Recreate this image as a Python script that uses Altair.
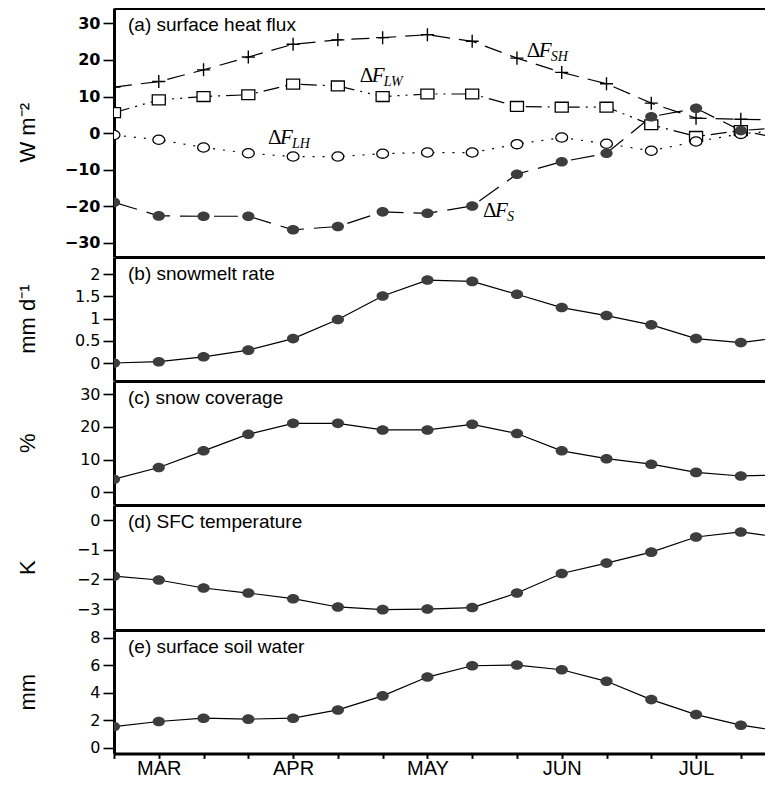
import json
import altair as alt
import pandas as pd

# ---------------- data ----------------
# x position: pentad index 0..14, last entry = value read where the frame is cut on the right
idx = list(range(15)) + [14.54]
months = ["", "MAR", "", "", "APR", "", "", "MAY", "", "", "JUN", "", "", "JUL", ""]

# (a) surface heat flux (W m-2)
d_sh = [12.6, 14.1, 17.3, 20.8, 24.3, 25.5, 26.1, 26.9, 25.1, 20.5, 16.6, 13.5, 8.2, 4.1, 3.8, 3.7]
d_lw = [5.6, 9.1, 10.0, 10.5, 13.4, 12.9, 10.0, 10.7, 10.7, 7.3, 7.1, 7.1, 2.3, -0.9, 0.7, 1.2]
d_lh = [-0.5, -1.8, -3.9, -5.5, -6.4, -6.4, -5.6, -5.3, -5.3, -3.0, -1.2, -2.9, -4.8, -2.3, -0.2, 0.4]
d_s = [-18.9, -22.6, -22.7, -22.7, -26.4, -25.5, -21.5, -21.9, -19.9, -11.2, -7.8, -5.5, 4.5, 6.8, 0.7, -0.6]
# (b) snowmelt rate (mm/d)
melt = [0.0, 0.03, 0.14, 0.29, 0.55, 0.98, 1.51, 1.87, 1.84, 1.55, 1.25, 1.07, 0.86, 0.55, 0.46, 0.53]
# (c) snow coverage (%)
cover = [4.0, 7.6, 12.7, 17.8, 21.1, 21.1, 19.1, 19.1, 20.8, 18.0, 12.7, 10.3, 8.6, 6.1, 5.0, 5.2]
# (d) SFC temperature (K)
temp = [-1.89, -2.02, -2.29, -2.46, -2.65, -2.93, -3.02, -3.00, -2.95, -2.46, -1.80, -1.45, -1.08, -0.57, -0.40, -0.51]
# (e) surface soil water (mm)
soil = [1.54, 1.91, 2.15, 2.08, 2.15, 2.75, 3.77, 5.14, 5.96, 6.01, 5.67, 4.83, 3.50, 2.41, 1.64, 1.38]

# annotation anchors in panel (a) data coordinates
ann_x = [9.22, 5.49, 3.44, 8.24]
ann_y = [20.8, 14.0, -2.9, -22.9]
ann_sub = ["SH", "LW", "LH", "S"]

panel_titles = ["(a) surface heat flux", "(b) snowmelt rate", "(c) snow coverage",
                "(d) SFC temperature", "(e) surface soil water"]
y_titles = ["W m\u207b\u00b2", "mm d\u207b\u00b9", "%", "K", "mm"]
y_ticks = [[-30, -20, -10, 0, 10, 20, 30], [0, 0.5, 1, 1.5, 2], [0, 10, 20, 30],
           [-3, -2, -1, 0], [0, 2, 4, 6, 8]]
y_domains = [[-33.7, 34.2], [-0.39, 2.39], [-3.67, 34.07], [-3.69, 0.51], [-0.41, 8.56]]

# ---------------- styling ----------------
W = 651
X_DOMAIN = [0, 14.54]
HEIGHTS = [248.5, 123.3, 123.3, 124.5, 123.4]
DOT = "#3d3d3d"
ELLIPSE = "M-1,0A1,0.78,0,1,1,1,0A1,0.78,0,1,1,-1,0Z"
SQUARE = "M-1,-0.76L1,-0.76L1,0.76L-1,0.76Z"
PLUS = "M-1,0L1,0M0,-1L0,1"

xscale = alt.Scale(domain=X_DOMAIN, nice=False, zero=False)
top_axis = alt.Axis(orient="top", domain=True, domainWidth=3, domainColor="black",
                    ticks=False, labels=False, grid=False, title=None)
bottom_axis = alt.Axis(orient="bottom", values=list(range(15)),
                       labelExpr=json.dumps(months) + "[datum.value]",
                       domain=True, domainWidth=3, domainColor="black",
                       ticks=True, tickSize=5, tickWidth=2, tickColor="black",
                       labelFont="Liberation Sans", labelFontSize=20, labelColor="black",
                       labelPadding=0.5, labelOverlap=False, labelFlush=False,
                       grid=False, title=None)


def y_axis(k, h):
    return alt.Axis(values=y_ticks[k], format="~r", grid=False,
                    domain=True, domainWidth=3, domainColor="black",
                    ticks=True, tickSize=11, tickWidth=1.6, tickColor="black",
                    labelFont="DejaVu Sans", labelFontSize=16, labelColor="black",
                    labelFontWeight="bold" if k == 0 else "normal",
                    labelPadding=3,
                    title=y_titles[k], titleFont="Liberation Sans", titleFontSize=22,
                    titleFontWeight="normal", titleColor="black",
                    titleAngle=-90, titleX=-80, titleY=h / 2, titleAlign="center",
                    titleBaseline="alphabetic")


def panel(k, df, series, extra=None, last=False):
    h = HEIGHTS[k]
    ysc = alt.Scale(domain=y_domains[k], nice=False, zero=False)
    layers = []
    first = True
    for field, dash, kind in series:
        xa = top_axis if first else None
        ya = y_axis(k, h) if first else None
        first = False
        enc_x = alt.X("i:Q", scale=xscale, axis=xa)
        enc_y = alt.Y(f"{field}:Q", scale=ysc, axis=ya)
        lm = dict(color="black", strokeWidth=1.2, clip=True)
        if dash:
            lm["strokeDash"] = dash
        layers.append(alt.Chart(df).mark_line(**lm).encode(x=enc_x, y=enc_y))
    for field, dash, kind in series:
        ex = alt.X("i:Q", scale=xscale, axis=None)
        ey = alt.Y(f"{field}:Q", scale=ysc, axis=None)
        if kind == "dot":
            pm = dict(shape=ELLIPSE, filled=True, color=DOT, size=150, opacity=1, clip=True)
        elif kind == "square":
            pm = dict(shape=SQUARE, filled=True, fill="white", stroke="black",
                      strokeWidth=1.3, size=170, opacity=1, clip=True)
        elif kind == "circle":
            pm = dict(shape=ELLIPSE, filled=True, fill="white", stroke="black",
                      strokeWidth=1.3, size=140, opacity=1, clip=True)
        else:
            pm = dict(shape=PLUS, filled=False, stroke="black", strokeWidth=1.4,
                      size=170, opacity=1, clip=True)
        layers.append(alt.Chart(df).transform_filter("datum.i <= 14").mark_point(**pm)
                      .encode(x=ex, y=ey))
    if extra is not None:
        layers.extend(extra(ysc))
    tdf = pd.DataFrame({"label": [panel_titles[k]]})
    layers.append(alt.Chart(tdf).mark_text(align="left", baseline="alphabetic",
                                           font="Liberation Sans", fontSize=19,
                                           color="black").encode(
        x=alt.value(14), y=alt.value(22.5), text="label:N"))
    if last:
        layers.append(alt.Chart(df).mark_line(opacity=0, clip=True).encode(
            x=alt.X("i:Q", scale=xscale, axis=bottom_axis),
            y=alt.Y(f"{series[0][0]}:Q", scale=ysc, axis=None)))
    ch = alt.layer(*layers).properties(width=W, height=h)
    ch = ch.resolve_axis(x="independent", y="independent")
    return ch


df_a = pd.DataFrame({"i": idx, "sh": d_sh, "lw": d_lw, "lh": d_lh, "fs": d_s})
ann = pd.DataFrame({"x": ann_x, "y": ann_y, "d": ["\u0394"] * 4, "f": ["F"] * 4, "sub": ann_sub})


def ann_layers(ysc):
    ex = alt.X("x:Q", scale=xscale, axis=None)
    ey = alt.Y("y:Q", scale=ysc, axis=None)
    base = alt.Chart(ann)
    return [
        base.mark_text(align="left", baseline="alphabetic", font="Liberation Serif",
                       fontSize=21, color="black").encode(x=ex, y=ey, text="d:N"),
        base.mark_text(align="left", baseline="alphabetic", font="Liberation Serif",
                       fontStyle="italic", fontSize=21, dx=12, color="black").encode(
            x=ex, y=ey, text="f:N"),
        base.mark_text(align="left", baseline="alphabetic", font="Liberation Serif",
                       fontStyle="italic", fontSize=14, dx=24, dy=4, color="black").encode(
            x=ex, y=ey, text="sub:N"),
    ]


pa = panel(0, df_a, [("sh", [18, 9], "plus"), ("lw", [16, 6, 2, 6, 2, 6], "square"),
                     ("lh", [2, 8], "circle"), ("fs", [24, 10], "dot")], extra=ann_layers)
pb = panel(1, pd.DataFrame({"i": idx, "v": melt}), [("v", None, "dot")])
pc = panel(2, pd.DataFrame({"i": idx, "v": cover}), [("v", None, "dot")])
pdd = panel(3, pd.DataFrame({"i": idx, "v": temp}), [("v", None, "dot")])
pe = panel(4, pd.DataFrame({"i": idx, "v": soil}), [("v", None, "dot")], last=True)

chart = alt.vconcat(pa, pb, pc, pdd, pe, spacing=0, bounds="flush").properties(
    padding={"left": 7, "top": 0, "right": 0, "bottom": 0}
).configure_view(stroke=None)

chart.save("out.html", embed_options={"renderer": "svg", "actions": False})
